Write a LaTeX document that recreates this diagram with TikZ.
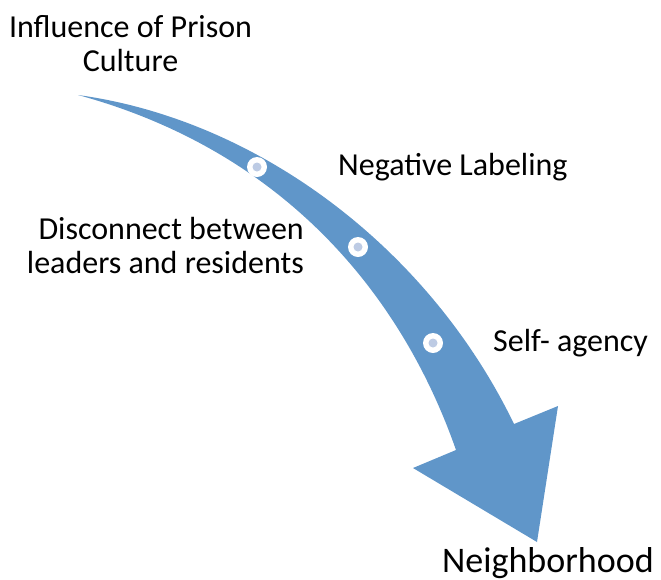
\documentclass[tikz,border=0pt]{standalone}
\usepackage{fontspec}
\setmainfont{Carlito}
\begin{document}
\begin{tikzpicture}[x=1pt,y=-1pt,
  label/.style={inner sep=0pt, font=\fontsize{32}{34}\selectfont, text=black},
  bigLabel/.style={inner sep=0pt, font=\fontsize{36}{40}\selectfont, text=black},
  ring/.style={circle, fill=white, minimum size=20pt, inner sep=0pt},
  dotcore/.style={circle, fill=dotblue, minimum size=9pt, inner sep=0pt}]
\definecolor{arrowblue}{RGB}{96,150,201}
\definecolor{dotblue}{RGB}{189,203,228}
\useasboundingbox (0,0) rectangle (661,579);

% curved tapering arrow
\fill[arrowblue]
  (78,95) .. controls (260,120) and (430,250) .. (514,424)
  -- (558,406) -- (537,542) -- (413,468) -- (456,450)
  .. controls (400,290) and (280,150) .. (78,95) -- cycle;

% markers along the arrow
\foreach \n/\p in {d1/{(257,167)}, d2/{(358,247)}, d3/{(433,343)}} {
  \node[ring] (\n) at \p {};
  \node[dotcore] (\n c) at \p {};
}

% labels
\node[label, anchor=base] (infl1) at (130.5,37) {Influence of Prison};
\node[label, anchor=base] (infl2) at (130.5,71) {Culture};
\node[label, anchor=base west] (neg) at (338,175) {Negative Labeling};
\node[label, anchor=base east] (disc1) at (304,239) {Disconnect between};
\node[label, anchor=base east] (disc2) at (304,273) {leaders and residents};
\node[label, anchor=base west] (self) at (493,351) {Self- agency};
\node[bigLabel, anchor=base west] (nbh) at (442,572) {Neighborhood};
\end{tikzpicture}
\end{document}
